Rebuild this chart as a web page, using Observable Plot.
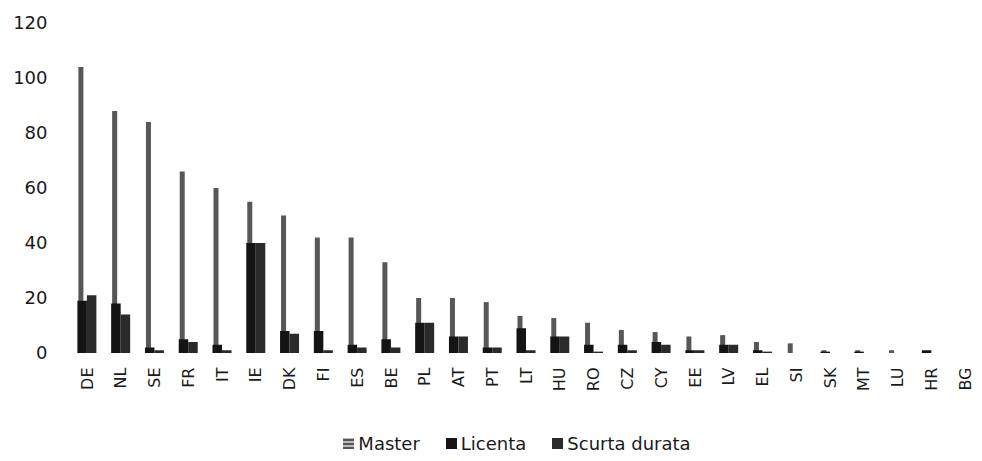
<!DOCTYPE html>
<html>
<head>
<meta charset="utf-8">
<script src="https://cdn.jsdelivr.net/npm/d3@7"></script>
<script src="https://cdn.jsdelivr.net/npm/@observablehq/plot@0.6"></script>
<style>
  html, body { margin: 0; padding: 0; background: #fff; }
  #chart { width: 982px; }
  .legend { display: flex; justify-content: center; align-items: center; gap: 26px;
            font-family: "DejaVu Sans", sans-serif; font-size: 18px; color: #1a1a1a;
            padding-left: 52px; margin-top: 23px; }
  .legend span.item { display: flex; align-items: center; gap: 4px; }
  .legend i { display: inline-block; width: 11px; height: 11px; }
</style>
</head>
<body>
<div id="chart"></div>
<script>
const countries = ["DE","NL","SE","FR","IT","IE","DK","FI","ES","BE","PL","AT","PT","LT","HU","RO","CZ","CY","EE","LV","EL","SI","SK","MT","LU","HR","BG"];
const master   = [104, 88, 84, 66, 60, 55, 50, 42, 42, 33, 20, 20, 18.5, 13.5, 12.7, 11, 8.4, 7.6, 6, 6.5, 4, 3.5, 1, 1, 1, 0, 0];
const licenta  = [19, 18, 2, 5, 3, 40, 8, 8, 3, 5, 11, 6, 2, 9, 6, 3, 3, 4, 1, 3, 1, 0, 0.5, 0.5, 0, 1, 0];
const scurta   = [21, 14, 1, 4, 1, 40, 7, 1, 2, 2, 11, 6, 2, 1, 6, 0.5, 1, 3, 1, 3, 0.5, 0, 0, 0, 0, 0, 0];
const seriesNames = ["Master", "Licenta", "Scurta durata"];
const seriesColors = ["#575757", "#141414", "#2a2a2a"];
const yTicks = [0, 20, 40, 60, 80, 100, 120];

const rows = countries.map((c, i) => ({country: c, master: master[i], licenta: licenta[i], scurta: scurta[i]}));

const W = 982, H = 410, ML = 70, MR = 0;
const bw = (W - ML - MR) / countries.length;
const half = bw / 2;

const chart = Plot.plot({
  width: W, height: H,
  marginTop: 23, marginBottom: 57, marginLeft: ML, marginRight: MR,
  style: {fontFamily: "DejaVu Sans, sans-serif", color: "#1a1a1a", background: "#fff"},
  x: {domain: countries, padding: 0, round: false, label: null},
  y: {domain: [0, 120], label: null},
  marks: [
    Plot.axisY({ticks: yTicks, tickSize: 0, tickPadding: 23, fontSize: 18, label: null}),
    Plot.axisX({tickRotate: -90, tickSize: 0, tickPadding: 14, fontSize: 16, label: null}),
    Plot.barY(rows, {x: "country", y: "master", fill: seriesColors[0], insetLeft: half - 8.5, insetRight: half + 3.5}),
    Plot.barY(rows, {x: "country", y: "licenta", fill: seriesColors[1], insetLeft: half - 9.5, insetRight: half}),
    Plot.barY(rows, {x: "country", y: "scurta", fill: seriesColors[2], insetLeft: half, insetRight: half - 9.5})
  ]
});
document.getElementById("chart").appendChild(chart);

const legend = document.createElement("div");
legend.className = "legend";
seriesNames.forEach((n, i) => {
  const item = document.createElement("span");
  item.className = "item";
  const sw = document.createElement("i");
  sw.style.background = i === 0 ? "repeating-linear-gradient(0deg,#555 0 2px,#bbb 2px 4px)" : seriesColors[i];
  const t = document.createElement("span");
  t.textContent = n;
  item.appendChild(sw); item.appendChild(t);
  legend.appendChild(item);
});
document.getElementById("chart").appendChild(legend);
</script>
</body>
</html>
